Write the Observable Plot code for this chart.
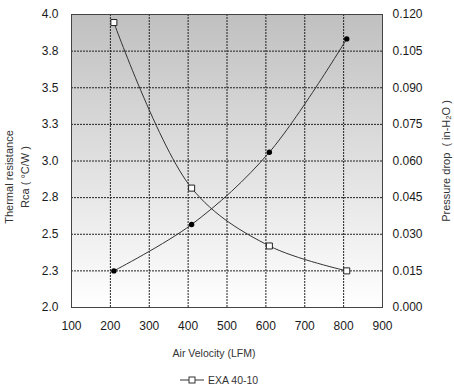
<!DOCTYPE html>
<html>
<head>
<meta charset="utf-8">
<script src="https://cdn.jsdelivr.net/npm/d3@7"></script>
<script src="https://cdn.jsdelivr.net/npm/@observablehq/plot@0.6"></script>
<style>
  body { margin: 0; background: #fff; font-family: "Liberation Sans", Arial, sans-serif; }
  #wrap { position: relative; width: 454px; height: 386px; overflow: hidden; }
  #legend { position: absolute; left: 180px; top: 374px; font-size: 10.5px; line-height: 12px; color: #333; display: flex; align-items: center; }
  #legend svg { margin-right: 4px; }
</style>
</head>
<body>
<div id="wrap"><div id="legend"></div></div>
<script>
// ---- data ----
const airVelocity = [209, 409, 609, 808];
const thermalResistance = [3.945, 2.815, 2.42, 2.25];
const pressureDrop = [0.015, 0.034, 0.0636, 0.110];
const xTicks = [100, 200, 300, 400, 500, 600, 700, 800, 900];
const leftTicks = [2.0, 2.25, 2.5, 2.75, 3.0, 3.25, 3.5, 3.75, 4.0];
const leftTickLabels = ["2.0", "2.3", "2.5", "2.8", "3.0", "3.3", "3.5", "3.8", "4.0"];
const rightTicks = [0, 0.015, 0.03, 0.045, 0.06, 0.075, 0.09, 0.105, 0.12];
const rightTickLabels = ["0.000", "0.015", "0.030", "0.045", "0.060", "0.075", "0.090", "0.105", "0.120"];
const xTitle = "Air Velocity (LFM)";
const leftTitle = "Thermal resistance\nRca ( °C/W )";
const rightTitle = "Pressure drop  ( in-H₂O )";
const seriesName = "EXA 40-10";

// right axis (pressure) mapped onto the left scale domain
const leftDomain = [2, 4];
const rightDomain = [0, 0.12];
const toLeft = p => leftDomain[0] + (p - rightDomain[0]) / (rightDomain[1] - rightDomain[0]) * (leftDomain[1] - leftDomain[0]);

const rData = airVelocity.map((x, i) => ({x, y: thermalResistance[i]}));
const pData = airVelocity.map((x, i) => ({x, y: toLeft(pressureDrop[i])}));
const rightPos = rightTicks.map(toLeft);
const rightLabelMap = new Map(rightPos.map((v, i) => [v, rightTickLabels[i]]));
const leftLabelMap = new Map(leftTicks.map((v, i) => [v, leftTickLabels[i]]));

const gridStyle = {stroke: "#222", strokeOpacity: 1, strokeDasharray: "2,1", strokeWidth: 1};
const titleStyle = {fontSize: 11, fill: "#333", fontFamily: "Liberation Sans, Arial, sans-serif", textAnchor: "middle", lineAnchor: "middle"};

const plot = Plot.plot({
  width: 454,
  height: 366,
  marginLeft: 71,
  marginRight: 72,
  marginTop: 14,
  marginBottom: 59,
  style: {fontFamily: "Liberation Sans, Arial, sans-serif", fontSize: "12px", color: "#1a1a1a", background: "transparent"},
  x: {domain: [100, 900]},
  y: {domain: leftDomain},
  marks: [
    Plot.frame({fill: "url(#bgGrad)", stroke: null}),
    Plot.gridX(xTicks.slice(1, -1), gridStyle),
    Plot.gridY(leftTicks.slice(1, -1), gridStyle),
    Plot.frame({stroke: "#444", strokeWidth: 1}),
    Plot.axisX(xTicks, {tickSize: 0, tickPadding: 14, label: null}),
    Plot.axisY(leftTicks, {anchor: "left", tickSize: 0, tickPadding: 13, label: null, tickFormat: d => leftLabelMap.get(d)}),
    Plot.axisY(rightPos, {anchor: "right", tickSize: 0, tickPadding: 10, label: null, tickFormat: d => rightLabelMap.get(d)}),
    Plot.line(rData, {x: "x", y: "y", curve: "catmull-rom", stroke: "#333", strokeWidth: 1}),
    Plot.line(pData, {x: "x", y: "y", curve: "catmull-rom", stroke: "#333", strokeWidth: 1}),
    Plot.dot(rData, {x: "x", y: "y", symbol: "square", r: 3.4, fill: "white", stroke: "#222", strokeWidth: 1}),
    Plot.dot(pData, {x: "x", y: "y", r: 2.7, fill: "#000", stroke: null}),
    Plot.text([leftTitle], {text: d => d, frameAnchor: "left", rotate: -90, dx: -56, dy: 16, lineHeight: 1.45, ...titleStyle}),
    Plot.text([rightTitle], {text: d => d, frameAnchor: "right", rotate: -90, dx: 64, dy: 0, ...titleStyle}),
    Plot.text([xTitle], {text: d => d, frameAnchor: "bottom", dx: -13, dy: 46, ...titleStyle, fontSize: 10.5})
  ]
});

const ns = "http://www.w3.org/2000/svg";
const defs = document.createElementNS(ns, "defs");
defs.innerHTML = '<linearGradient id="bgGrad" x1="0" y1="0" x2="0" y2="1"><stop offset="0" stop-color="#c0c0c0"/><stop offset="1" stop-color="#ffffff"/></linearGradient>';
plot.insertBefore(defs, plot.firstChild);

const wrap = document.getElementById("wrap");
wrap.insertBefore(plot, wrap.firstChild);

const legend = document.getElementById("legend");
legend.innerHTML = '<svg width="24" height="10"><line x1="0" y1="5" x2="24" y2="5" stroke="#333"/><rect x="9" y="2" width="6" height="6" fill="white" stroke="#333"/></svg>';
legend.appendChild(document.createTextNode(seriesName));
</script>
</body>
</html>
